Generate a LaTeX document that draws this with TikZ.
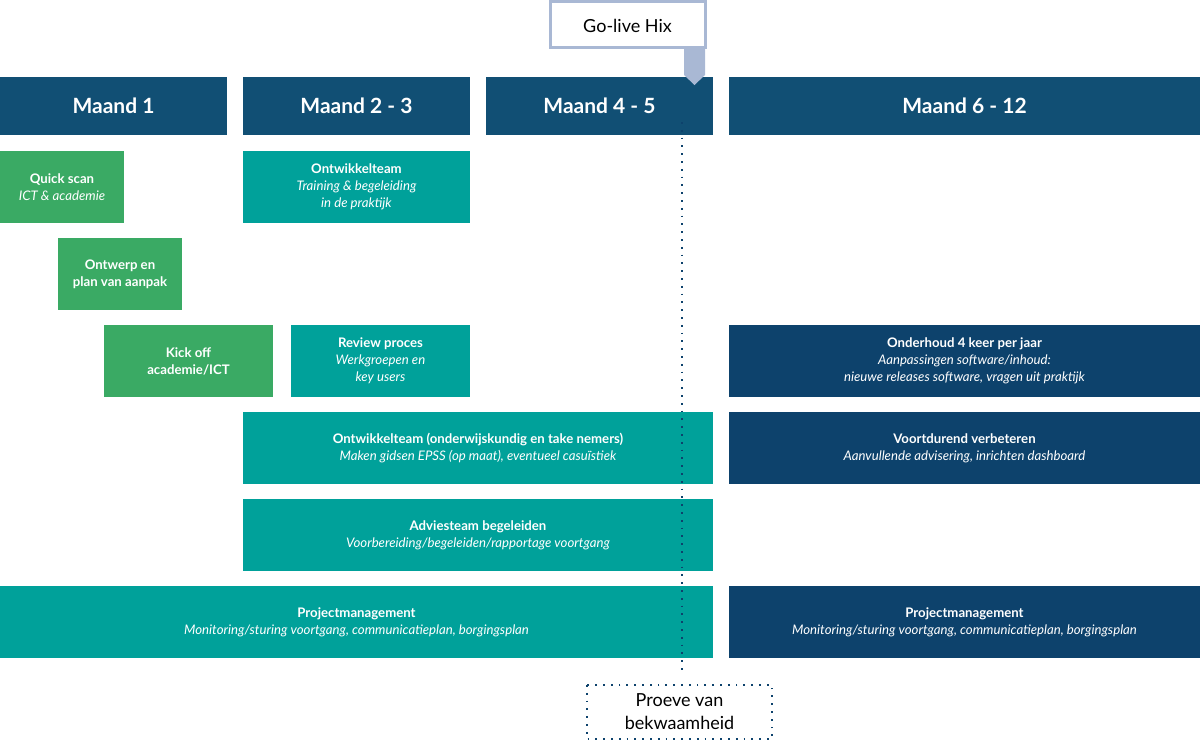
\documentclass[tikz,border=0pt]{standalone}
\usepackage{fontspec}
\setmainfont{Lato}
\begin{document}
\begin{tikzpicture}[x=0.5pt,y=-0.5pt,
  hdr/.style={fill=navyH,draw=none,text=white,font=\fontsize{10.5}{12}\selectfont\bfseries},
  grn/.style={fill=grn,draw=none,text=white,align=center,font=\fontsize{6.6}{8.6}\selectfont},
  tl/.style={fill=teal1,draw=none,text=white,align=center,font=\fontsize{6.6}{8.6}\selectfont},
  nv/.style={fill=navy2,draw=none,text=white,align=center,font=\fontsize{6.6}{8.6}\selectfont},
  dots/.style={draw=navy2,line width=0.9pt,dash pattern=on 0.9pt off 3pt}]
\definecolor{navyH}{RGB}{17,79,116}
\definecolor{navy2}{RGB}{13,66,108}
\definecolor{grn}{RGB}{58,170,100}
\definecolor{teal1}{RGB}{0,161,154}
\definecolor{gl}{RGB}{169,184,212}
\useasboundingbox (0,0) rectangle (1200,741);
\newcommand{\bx}[6]{\fill[#1] (#2,#3) rectangle (#4,#5); \node[#1,fill=none] at ({(#2+#4)/2},{(#3+#5)/2}) {#6};}
% headers
\fill[navyH] (0,77) rectangle (227,135); \node[hdr,fill=none] (h1) at (113.5,106) {Maand 1};
\fill[navyH] (243,77) rectangle (470,135); \node[hdr,fill=none] (h2) at (356.5,106) {Maand 2 - 3};
\fill[navyH] (486,77) rectangle (713,135); \node[hdr,fill=none] (h3) at (599.5,106) {Maand 4 - 5};
\fill[navyH] (729,77) rectangle (1200,135); \node[hdr,fill=none] (h4) at (964.5,106) {Maand 6 - 12};
% go live
\fill[gl] (684,45) -- (705,45) -- (705,75) -- (694.5,85) -- (684,75) -- cycle;
\draw[gl,line width=1.5pt,fill=white] (550,1) rectangle (705,47);
\node[font=\fontsize{9}{11}\selectfont] (gl) at (627.5,26) {Go-live Hix};
% green
\bx{grn}{0}{151}{124}{223}{\textbf{Quick scan}\\\textit{ICT \& academie}}
\bx{grn}{58}{238}{182}{310}{\textbf{Ontwerp en}\\\textbf{plan van aanpak}}
\bx{grn}{104}{325}{273}{397}{\textbf{Kick off}\\\textbf{academie/ICT}}
% teal
\bx{tl}{243}{151}{470}{223}{\textbf{Ontwikkelteam}\\\textit{Training \& begeleiding}\\\textit{in de praktijk}}
\bx{tl}{291}{325}{470}{397}{\textbf{Review proces}\\\textit{Werkgroepen en}\\\textit{key users}}
\bx{tl}{243}{412}{713}{484}{\textbf{Ontwikkelteam (onderwijskundig en take nemers)}\\\textit{Maken gidsen EPSS (op maat), eventueel casuïstiek}}
\bx{tl}{243}{499}{713}{571}{\textbf{Adviesteam begeleiden}\\\textit{Voorbereiding/begeleiden/rapportage voortgang}}
\bx{tl}{0}{586}{713}{658}{\textbf{Projectmanagement}\\\textit{Monitoring/sturing voortgang, communicatieplan, borgingsplan}}
% navy
\bx{nv}{729}{325}{1200}{397}{\textbf{Onderhoud 4 keer per jaar}\\\textit{Aanpassingen software/inhoud:}\\\textit{nieuwe releases software, vragen uit praktijk}}
\bx{nv}{729}{412}{1200}{484}{\textbf{Voortdurend verbeteren}\\\textit{Aanvullende advisering, inrichten dashboard}}
\bx{nv}{729}{586}{1200}{658}{\textbf{Projectmanagement}\\\textit{Monitoring/sturing voortgang, communicatieplan, borgingsplan}}
% proeve
\draw[dots] (587,685) rectangle (772,739);
\node[align=center,font=\fontsize{9}{11.5}\selectfont] (pv) at (679.5,712) {Proeve van\\bekwaamheid};
\coordinate (top) at (682,122);
\coordinate (bot) at (682,673);
\draw[dots] (top) -- (bot);
\end{tikzpicture}
\end{document}
